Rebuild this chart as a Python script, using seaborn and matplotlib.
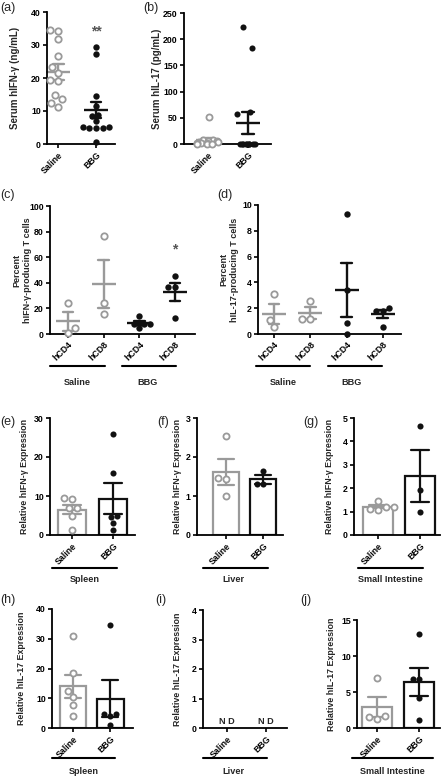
import numpy as np
import pandas as pd
import matplotlib
matplotlib.use("Agg")
import matplotlib.pyplot as plt
from matplotlib.lines import Line2D
import seaborn as sns

# ---------------- data ----------------
groups = ["Saline", "BBG"]
cells = ["hCD4", "hCD8"]

a_saline = [34.5, 34.2, 31.7, 26.8, 23.3, 21.5, 19.5, 19.0, 15.0, 13.5, 12.5, 11.3]
a_bbg = [29.3, 27.3, 14.4, 11.5, 8.8, 8.5, 7.0, 5.3, 5.1, 5.0, 5.0, 4.8, 0.6]

b_saline = [51, 8, 7, 6, 5, 4, 3, 2, 1.5, 1, 0.5, 0, 0]
b_bbg = [224, 183, 62, 58, 0, 0, 0, 0, 0, 0, 0, 0, 0]

c_saline_cd4 = [24.5, 4.5, 1.0]
c_saline_cd8 = [76.5, 24.5, 16.0]
c_bbg_cd4 = [14.0, 8.0, 8.0, 7.5, 4.3]
c_bbg_cd8 = [45.5, 37.0, 36.6, 12.5]

d_saline_cd4 = [3.07, 1.08, 0.52]
d_saline_cd8 = [2.53, 1.2, 1.2]
d_bbg_cd4 = [9.3, 3.4, 0.83, 0.0]
d_bbg_cd8 = [1.8, 1.8, 2.04, 0.57]

e_saline = [9.3, 9.5, 6.9, 7.0, 5.0, 1.4]
e_bbg = [26.0, 16.0, 5.0, 4.5, 3.0, 1.2]

f_saline = [2.54, 1.47, 1.43, 1.0]
f_bbg = [1.65, 1.32, 1.3]

g_saline = [1.45, 1.2, 1.2, 1.1, 1.08]
g_bbg = [4.65, 1.92, 1.0]

h_saline = [31.0, 18.4, 12.5, 10.4, 7.7, 3.9]
h_bbg = [34.7, 4.7, 4.7, 4.0, 1.0]

i_saline = []   # not detected
i_bbg = []      # not detected

j_saline = [7.0, 1.7, 1.2, 1.5]
j_bbg = [13.0, 6.8, 6.8, 4.2, 1.1]

# ---------------- style ----------------
sns.set_theme(style="ticks")
plt.rcParams["font.family"] = ["Liberation Sans", "DejaVu Sans"]
plt.rcParams["font.weight"] = "bold"
plt.rcParams["axes.labelweight"] = "bold"

W, H = 442, 778
GRAY = "#9a9a9a"
BLACK = "#111111"

fig = plt.figure(figsize=(W / 100, H / 100), dpi=100, facecolor="white")


def add_ax(left, top, right, bottom):
    return fig.add_axes([left / W, 1 - bottom / H, (right - left) / W, (bottom - top) / H])


def long_df(pairs):
    rows = []
    for cat, grp, vals in pairs:
        for v in vals:
            rows.append((cat, grp, v))
    return pd.DataFrame(rows, columns=["cat", "grp", "val"])


def draw_dots(ax, df, order, kind="swarm", size=4.6, mk=17, capsize=0.28):
    for grp, col in [("Saline", GRAY), ("BBG", BLACK)]:
        sub = df[df.grp == grp]
        kw = dict(data=sub, x="cat", y="val", order=order, ax=ax, size=size, zorder=3)
        if grp == "Saline":
            kw.update(color="white", edgecolor=GRAY, linewidth=1.3)
        else:
            kw.update(color=BLACK, linewidth=0)
        if kind == "swarm":
            sns.swarmplot(**kw)
        else:
            sns.stripplot(jitter=0.3, **kw)
        sns.pointplot(data=sub, x="cat", y="val", order=order, ax=ax, errorbar="se",
                      color=col, markers="_", markersize=mk, markeredgewidth=1.7,
                      linestyle="none", capsize=capsize,
                      err_kws={"linewidth": 1.7, "color": col})


def draw_bars(ax, df, order, size=4.4):
    for grp, col in [("Saline", GRAY), ("BBG", BLACK)]:
        sub = df[df.grp == grp]
        if len(sub) == 0:
            continue
        sns.barplot(data=sub, x="cat", y="val", order=order, ax=ax, fill=False,
                    color=col, saturation=1, linewidth=1.6, width=0.7,
                    errorbar="se", capsize=0.42,
                    err_kws={"color": col, "linewidth": 1.6})
        kw = dict(data=sub, x="cat", y="val", order=order, ax=ax, size=size, zorder=3)
        if grp == "Saline":
            kw.update(color="white", edgecolor=GRAY, linewidth=1.3)
        else:
            kw.update(color=BLACK, linewidth=0)
        sns.swarmplot(**kw)


def finish(ax, box, xlim, ylim, yticks, xlabels, ylabel, label_cx, label_fs=6.6):
    left, top, right, bottom = box
    ax.set_xlim(*xlim)
    ax.set_ylim(*ylim)
    ax.set_yticks(yticks)
    ax.set_yticklabels([str(t) for t in yticks])
    ax.set_xticks(range(len(xlabels)))
    ax.set_xticklabels(xlabels, rotation=45, ha="right", rotation_mode="anchor",
                       fontsize=6.2, fontweight="bold")
    ax.set_xlabel("")
    ax.set_ylabel(ylabel, fontsize=label_fs, fontweight="bold", va="center",
                  linespacing=1.15)
    ax.yaxis.set_label_coords((label_cx - left) / (right - left), 0.5)
    sns.despine(ax=ax)
    for s in ("left", "bottom"):
        ax.spines[s].set_linewidth(1.3)
        ax.spines[s].set_color("black")
    ax.tick_params(axis="both", length=3, width=1.2, pad=1.5, labelsize=6.3,
                   color="black", labelcolor="black")
    ax.patch.set_alpha(0)
    for c in ax.collections:
        c.set_clip_on(False)
    for l in ax.lines:
        l.set_clip_on(False)


def fig_line(x0, x1, y):
    fig.add_artist(Line2D([x0 / W, x1 / W], [1 - y / H, 1 - y / H], color="black",
                          lw=1.5, transform=fig.transFigure))


def fig_text(x, y, s, **kw):
    fig.text(x / W, 1 - y / H, s, **kw)


def panel_label(x, y, s):
    fig_text(x, y, s, fontsize=9, fontweight="normal", ha="left", va="center")


def group_label(x, y, s):
    fig_text(x, y, s, fontsize=6.6, fontweight="bold", ha="center", va="center")


# ---------------- (a) ----------------
box = (47, 12, 115, 144)
ax = add_ax(*box)
df = long_df([("Saline", "Saline", a_saline), ("BBG", "BBG", a_bbg)])
draw_dots(ax, df, groups, kind="swarm")
ax.text(1, 34, "**", ha="center", va="center", fontsize=10, color="#555555")
finish(ax, box, (-0.3, 1.5), (0, 40), [0, 10, 20, 30, 40], groups,
       "Serum hIFN-γ (ng/mL)", 15, 7.0)
panel_label(0, 8, "(a)")

# ---------------- (b) ----------------
box = (184, 13, 271, 144)
ax = add_ax(*box)
np.random.seed(3)
df = long_df([("Saline", "Saline", b_saline), ("BBG", "BBG", b_bbg)])
draw_dots(ax, df, groups, kind="strip", size=4.4)
finish(ax, box, (-0.6, 1.575), (0, 250), [0, 50, 100, 150, 200, 250], groups,
       "Serum hIL-17 (pg/mL)", 157, 7.0)
panel_label(143, 8, "(b)")

# ---------------- (c) ----------------
order4 = ["Saline hCD4", "Saline hCD8", "BBG hCD4", "BBG hCD8"]
box = (50, 206, 195, 334)
ax = add_ax(*box)
df = long_df([("Saline hCD4", "Saline", c_saline_cd4), ("Saline hCD8", "Saline", c_saline_cd8),
              ("BBG hCD4", "BBG", c_bbg_cd4), ("BBG hCD8", "BBG", c_bbg_cd8)])
draw_dots(ax, df, order4, kind="swarm", capsize=0.3)
ax.text(3, 66, "*", ha="center", va="center", fontsize=10, color="#555555")
finish(ax, box, (-0.5, 3.56), (0, 100), [0, 20, 40, 60, 80, 100], cells * 2,
       "Percent\nhIFN-γ-producing T cells", 22, 6.5)
panel_label(0, 195, "(c)")
fig_line(50, 105, 366)
fig_line(122, 176, 366)
group_label(77, 382, "Saline")
group_label(148, 382, "BBG")

# ---------------- (d) ----------------
box = (258, 205, 401, 334)
ax = add_ax(*box)
df = long_df([("Saline hCD4", "Saline", d_saline_cd4), ("Saline hCD8", "Saline", d_saline_cd8),
              ("BBG hCD4", "BBG", d_bbg_cd4), ("BBG hCD8", "BBG", d_bbg_cd8)])
draw_dots(ax, df, order4, kind="swarm", capsize=0.3)
finish(ax, box, (-0.44, 3.5), (0, 10), [0, 2, 4, 6, 8, 10], cells * 2,
       "Percent\nhIL-17-producing T cells", 229, 6.5)
panel_label(217, 195, "(d)")
fig_line(256, 310, 366)
fig_line(328, 382, 366)
group_label(283, 382, "Saline")
group_label(352, 382, "BBG")

# ---------------- bar panels ----------------
bar_panels = [
    ("(e)", (50, 418, 135, 535), (-0.54, 1.54), (0, 30), [0, 10, 20, 30], e_saline, e_bbg,
     "Relative hIFN-γ Expression", 24.5, (0, 422), (52, 117, 568), "Spleen", (85, 580)),
    ("(f)", (197, 418, 283, 535), (-0.78, 1.54), (0, 3), [0, 1, 2, 3], f_saline, f_bbg,
     "Relative hIFN-γ Expression", 177, (157, 422), (203, 268, 568), "Liver", (233, 580)),
    ("(g)", (354, 418, 440, 535), (-0.57, 1.48), (0, 5), [0, 1, 2, 3, 4, 5], g_saline, g_bbg,
     "Relative hIFN-γ Expression", 330, (303, 422), (358, 423, 568), "Small Intestine", (390, 580)),
    ("(h)", (52, 609, 133, 728), (-0.55, 1.6), (0, 40), [0, 10, 20, 30, 40], h_saline, h_bbg,
     "Relative hIL-17 Expression", 22, (0, 600), (52, 115, 758), "Spleen", (84, 772)),
    ("(i)", (203, 610, 287, 728), (-0.62, 1.54), (0, 4), [0, 1, 2, 3, 4], i_saline, i_bbg,
     "Relative hIL-17 Expression", 177, (155, 600), (203, 267, 758), "Liver", (233, 772)),
    ("(j)", (357, 620, 440, 728), (-0.48, 1.5), (0, 15), [0, 5, 10, 15], j_saline, j_bbg,
     "Relative hIL-17 Expression", 331, (300, 600), (352, 433, 758), "Small Intestine", (392, 772)),
]

for (lab, box, xlim, ylim, yticks, sal, bbg, ylabel, lcx, lpos, uline, tissue, tpos) in bar_panels:
    ax = add_ax(*box)
    df = long_df([("Saline", "Saline", sal), ("BBG", "BBG", bbg)])
    if len(df):
        draw_bars(ax, df, groups)
    else:
        for k, g in enumerate(groups):
            ax.text(k, ylim[1] * 0.055, "N D", ha="center", va="center",
                    fontsize=6.6, fontweight="bold")
    finish(ax, box, xlim, ylim, yticks, groups, ylabel, lcx, 6.4)
    panel_label(lpos[0], lpos[1], lab)
    fig_line(uline[0], uline[1], uline[2])
    group_label(tpos[0], tpos[1], tissue)

fig.savefig("out.png", dpi=100, facecolor="white")
